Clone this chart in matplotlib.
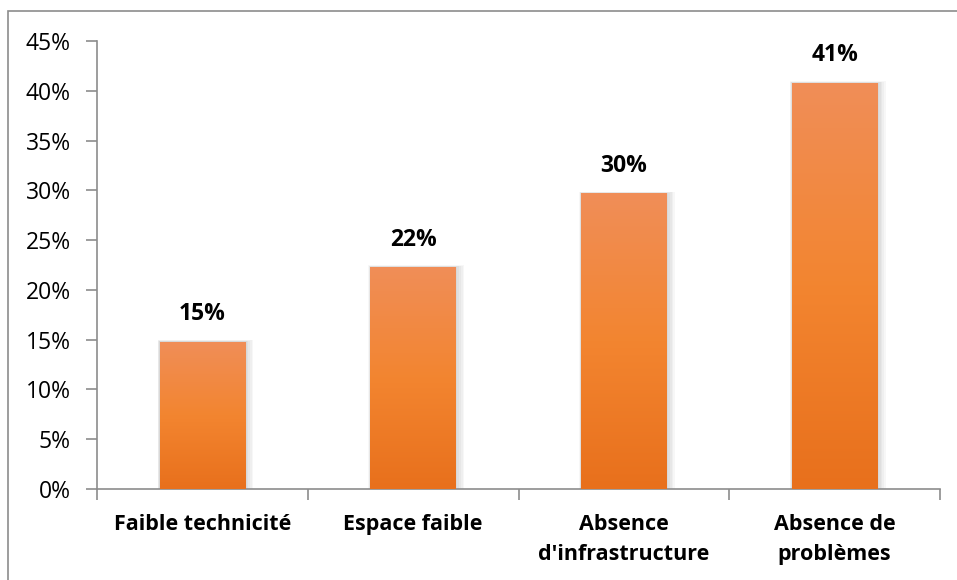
import numpy as np
import matplotlib.pyplot as plt
from matplotlib.patches import Rectangle
from matplotlib.colors import LinearSegmentedColormap

categories = ["Faible technicité", "Espace faible", "Absence\nd'infrastructure", "Absence de\nproblèmes"]
values = [14.8, 22.3, 29.7, 40.8]
labels = ["15%", "22%", "30%", "41%"]
yticks = [0, 5, 10, 15, 20, 25, 30, 35, 40, 45]

plt.rcParams['font.family'] = ['Open Sans', 'DejaVu Sans']

fig = plt.figure(figsize=(9.57, 5.80), dpi=100)
ax = fig.add_axes([97 / 957, 1 - 489 / 580, (940 - 97) / 957, (489 - 41) / 580])

# outer chart frame (only top and left edges are visible in the picture)
fig.patches.append(Rectangle((8 / 957, -0.1), 1.2, 1.1 - 11 / 580, transform=fig.transFigure,
                             fill=False, edgecolor='#8c8c8c', linewidth=1.2, zorder=0))

cmap = LinearSegmentedColormap.from_list('bar', ['#e8701c', '#f38530', '#f08e58'])
grad = np.linspace(0, 1, 256).reshape(-1, 1)
x = np.arange(len(categories))
w = 0.405

for i, v in enumerate(values):
    # soft shadow, mostly to the right
    for k in range(1, 6):
        d = k * 0.005
        ax.add_patch(Rectangle((x[i] - w / 2 - d * 0.4, 0), w + d * 2.0, v + d * 6,
                               facecolor='black', alpha=0.03, edgecolor='none', zorder=1))
    bar = ax.bar(x[i], v, width=w, color='#f07d30', zorder=2)[0]
    im = ax.imshow(grad, cmap=cmap, origin='lower', aspect='auto',
                   extent=[x[i] - w / 2, x[i] + w / 2, 0, v], zorder=3)
    im.set_clip_path(bar)
    ax.text(x[i], v + 2.75, labels[i], ha='center', va='center', fontsize=16.5,
            fontweight='bold', color='black')

ax.set_xlim(-0.5, len(categories) - 0.5)
ax.set_ylim(0, 45)
ax.set_yticks(yticks)
ax.set_yticklabels([f"{t}%" for t in yticks], fontsize=16.5)
ax.set_xticks(np.arange(len(categories) + 1) - 0.5, minor=False)
ax.set_xticklabels([])
ax.set_xticks(x, minor=True)
ax.set_xticklabels(categories, minor=True, fontsize=15.5, fontweight='bold', linespacing=1.55)
ax.tick_params(axis='x', which='minor', length=0, pad=18)
ax.tick_params(axis='x', which='major', length=8, color='#8c8c8c', width=1.2)
ax.tick_params(axis='y', length=8, color='#8c8c8c', width=1.2, pad=11)

for s in ['top', 'right']:
    ax.spines[s].set_visible(False)
for s in ['left', 'bottom']:
    ax.spines[s].set_color('#8c8c8c')
    ax.spines[s].set_linewidth(1.2)

fig.savefig('out.png', dpi=100)
